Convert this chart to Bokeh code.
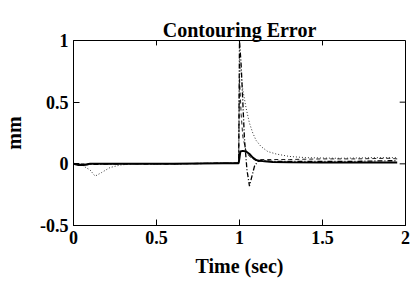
from bokeh.plotting import figure
from bokeh.models import FixedTicker, Range1d
from bokeh.embed import file_html
from bokeh.resources import INLINE

# data
t_solid = [0.0, 0.03, 0.06, 0.1, 0.3, 0.6, 0.9, 0.995, 1.0, 1.005, 1.02, 1.04, 1.06, 1.08, 1.1, 1.15, 1.2, 1.3, 1.5, 1.7, 1.9, 1.95]
y_solid = [0.0, -0.01, -0.01, 0.0, 0.0, 0.0, 0.005, 0.005, 0.05, 0.1, 0.105, 0.1, 0.08, 0.05, 0.03, 0.02, 0.015, 0.012, 0.01, 0.01, 0.01, 0.01]

t_dashdot = [0.0, 0.05, 0.1, 0.3, 0.6, 0.9, 0.995, 1.0, 1.01, 1.02, 1.03, 1.045, 1.06, 1.075, 1.09, 1.11, 1.15, 1.2, 1.3, 1.5, 1.7, 1.9, 1.95]
y_dashdot = [0.0, -0.01, -0.005, 0.0, 0.0, 0.005, 0.005, 1.0, 0.8, 0.5, 0.2, -0.05, -0.18, -0.1, -0.02, 0.02, 0.025, 0.02, 0.02, 0.02, 0.02, 0.025, 0.025]

t_dotted = [0.0, 0.05, 0.1, 0.13, 0.17, 0.22, 0.28, 0.35, 0.6, 0.9, 0.995, 1.0, 1.02, 1.04, 1.06, 1.08, 1.1, 1.13, 1.17, 1.22, 1.3, 1.4, 1.6, 1.8, 1.95]
y_dotted = [0.0, -0.01, -0.05, -0.1, -0.07, -0.03, -0.01, 0.0, 0.0, 0.005, 0.005, 0.85, 0.6, 0.45, 0.33, 0.25, 0.19, 0.14, 0.1, 0.08, 0.06, 0.05, 0.045, 0.05, 0.05]

t_dashed = [0.0, 0.1, 0.3, 0.6, 0.9, 0.995, 1.0, 1.01, 1.02, 1.04, 1.06, 1.08, 1.1, 1.15, 1.2, 1.3, 1.5, 1.7, 1.9, 1.95]
y_dashed = [0.0, 0.0, 0.0, 0.0, 0.005, 0.005, 0.7, 0.4, 0.22, 0.1, 0.06, 0.04, 0.035, 0.035, 0.035, 0.035, 0.04, 0.04, 0.045, 0.04]

x_ticks = [0, 0.5, 1, 1.5, 2]
y_ticks = [-0.5, 0, 0.5, 1]
x_labels = {0: "0", 0.5: "0.5", 1: "1", 1.5: "1.5", 2: "2"}
y_labels = {-0.5: "-0.5", 0: "0", 0.5: "0.5", 1: "1"}

FONT = "Liberation Serif"
X0, X1, Y0, Y1 = 0, 2, -0.5, 1

p = figure(width=410, height=284, output_backend="svg", toolbar_location=None,
           x_range=Range1d(X0, X1), y_range=Range1d(Y0, Y1),
           min_border_left=73, min_border_right=5, min_border_top=40, min_border_bottom=59)

p.title.text = "Contouring Error"
p.title.align = "center"
p.title.text_font = FONT
p.title.text_font_size = "20px"
p.title.text_font_style = "bold"
p.title.text_color = "black"
p.title.offset = 0
p.title.standoff = 0

p.grid.visible = False
p.outline_line_color = "black"
p.outline_line_width = 1
p.background_fill_color = "white"
p.border_fill_color = "white"

for ax in (p.xaxis[0], p.yaxis[0]):
    ax.major_tick_in = 6
    ax.major_tick_out = 0
    ax.major_tick_line_color = "black"
    ax.minor_tick_line_color = None
    ax.major_label_text_font = FONT
    ax.major_label_text_font_size = "18px"
    ax.major_label_text_font_style = "bold"
    ax.major_label_text_color = "black"
    ax.axis_label_text_font = FONT
    ax.axis_label_text_font_size = "20px"
    ax.axis_label_text_font_style = "bold"
    ax.axis_label_text_color = "black"
    ax.axis_line_color = "black"

p.xaxis[0].ticker = FixedTicker(ticks=x_ticks)
p.yaxis[0].ticker = FixedTicker(ticks=y_ticks)
p.xaxis[0].axis_label = "Time (sec)"
p.yaxis[0].axis_label = "mm"
p.xaxis[0].major_label_standoff = 5
p.yaxis[0].major_label_standoff = 5
p.xaxis[0].axis_label_standoff = 8
p.yaxis[0].axis_label_standoff = 12
p.xaxis[0].major_label_overrides = x_labels
p.yaxis[0].major_label_overrides = y_labels

# inward ticks on the top and right edges of the box (Matlab style)
p.segment(x0=x_ticks, y0=[Y1] * len(x_ticks), x1=x_ticks, y1=[Y1 - 0.04] * len(x_ticks),
          line_color="black", line_width=1)
p.segment(x0=[X1] * len(y_ticks), y0=y_ticks, x1=[X1 - 0.035] * len(y_ticks), y1=y_ticks,
          line_color="black", line_width=1)

p.line(t_dotted, y_dotted, line_color="#333333", line_width=1, line_dash="1 2")
p.line(t_dashed, y_dashed, line_color="#222222", line_width=1, line_dash="4 3")
p.line(t_dashdot, y_dashdot, line_color="black", line_width=1.3, line_dash="5 2 1 2")
p.line(t_solid, y_solid, line_color="black", line_width=2)

open("out.html", "w").write(file_html(p, INLINE))
